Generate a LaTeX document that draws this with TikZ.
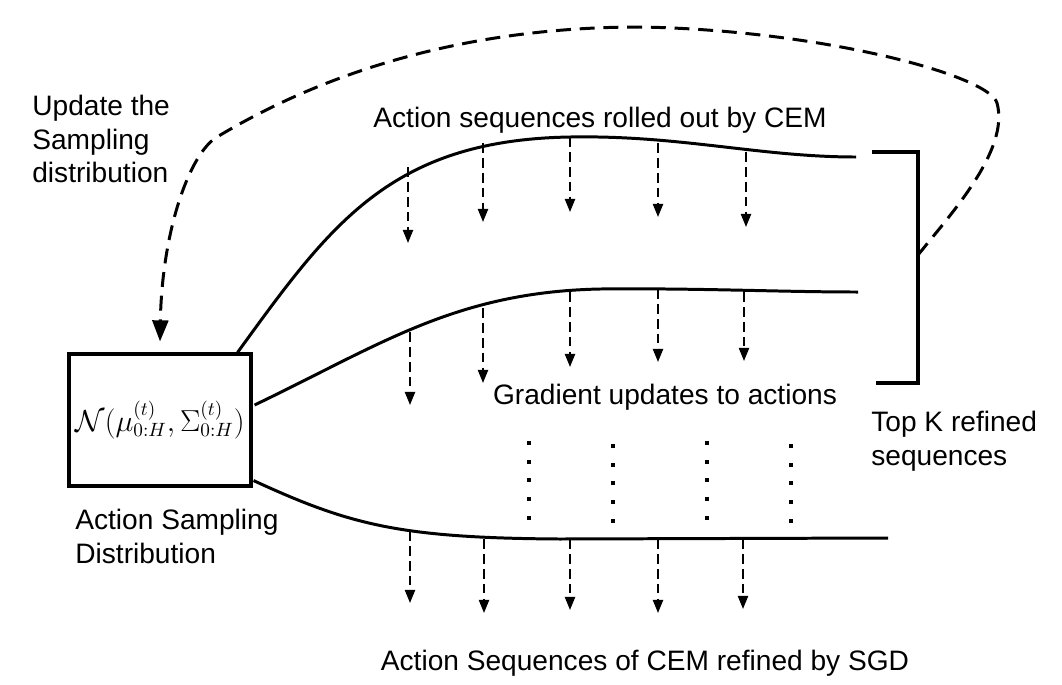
\documentclass[tikz,border=0pt]{standalone}
\usepackage{fontspec}
\setmainfont{Liberation Sans}
\usetikzlibrary{arrows.meta, calc, positioning}

\begin{document}
\begin{tikzpicture}[x=0.02cm, y=-0.02cm,
        distbox/.style={rectangle, draw, line width=1.8pt, minimum width=3.64cm, minimum height=2.64cm, inner sep=0pt, font=\fontsize{16}{19}\selectfont},
        seqline/.style={line width=1.7pt},
        gradarrow/.style={-{Triangle[length=7.5pt, width=5.8pt]}, line width=1.1pt, dash pattern=on 5.5pt off 3pt},
        feedback/.style={-{Triangle[length=12pt, width=9pt]}, line width=1.7pt, dash pattern=on 8.5pt off 5pt},
        bracket/.style={line width=2.2pt},
        txt/.style={font=\fontsize{16}{19.3}\selectfont, inner sep=0pt, align=left}
    ]
        \useasboundingbox (0,0) rectangle (1062,684);

        \node[distbox] (dist) at (160,420) {$\mathcal{N}(\mu^{(t)}_{0:H},\Sigma^{(t)}_{0:H})$};

        % end points of the sequences
        \coordinate (e1) at (856,157);
        \coordinate (e2) at (858,292);
        \coordinate (e3) at (888,538);

        \draw[seqline] ($(dist.north east)+(-15,0)$) .. controls (330,225) and (390,140) .. (570,137)
            .. controls (680,135) and (760,157) .. (e1);
        \draw[seqline] ($(dist.east)+(2,-15)$) .. controls (380,345) and (455,292) .. (600,289)
            .. controls (700,288) and (780,292) .. (e2);
        \draw[seqline] ($(dist.south east)+(1,-7)$) .. controls (350,525) and (400,538) .. (560,539) -- (e3);

        % gradient steps
        \foreach \x/\ya/\yb in {408/167/243, 483/143/222, 570/137/212, 658/143/217, 746/152/227}
            \draw[gradarrow] (\x,\ya) -- (\x,\yb);
        \foreach \x/\ya/\yb in {410/332/405, 483/308/383, 570/292/367, 658/289/362, 744/292/361}
            \draw[gradarrow] (\x,\ya) -- (\x,\yb);
        \foreach \x/\ya/\yb in {410/531/603, 484/539/613, 570/539/610, 658/539/613, 743/539/609}
            \draw[gradarrow] (\x,\ya) -- (\x,\yb);

        % vertical dots
        \foreach \x/\y in {529/443, 613/446, 707/443, 791/446}
            \foreach \k in {0,...,4}
                \fill ({\x-2},{\y+\k*18.7-2}) rectangle ++(4,4);

        % top K bracket
        \draw[bracket] (872,152) -| (918,383) -- (876,383);
        \coordinate (brk) at (918,255);

        \draw[feedback] (brk) .. controls (950,215) and (1010,150) .. (997,103)
            .. controls (989,75) and (820,30) .. (640,27)
            .. controls (460,27) and (320,75) .. (217,137)
            .. controls (190,153) and (162,230) .. ($(dist.north)+(0,-11)$);

        \node[txt, anchor=west] (updlbl) at (32,139) {Update the\\Sampling\\distribution};
        \node[txt] (cemlbl) at (600,120) {Action sequences rolled out by CEM};
        \node[txt] (gradlbl) at (665,397) {Gradient updates to actions};
        \node[txt, anchor=west] (topklbl) at (871,441) {Top K refined\\sequences};
        \node[txt, anchor=west] (distlbl) at (75,536) {Action Sampling\\Distribution};
        \node[txt] (sgdlbl) at (645,663) {Action Sequences of CEM refined by SGD};
    \end{tikzpicture}
\end{document}
